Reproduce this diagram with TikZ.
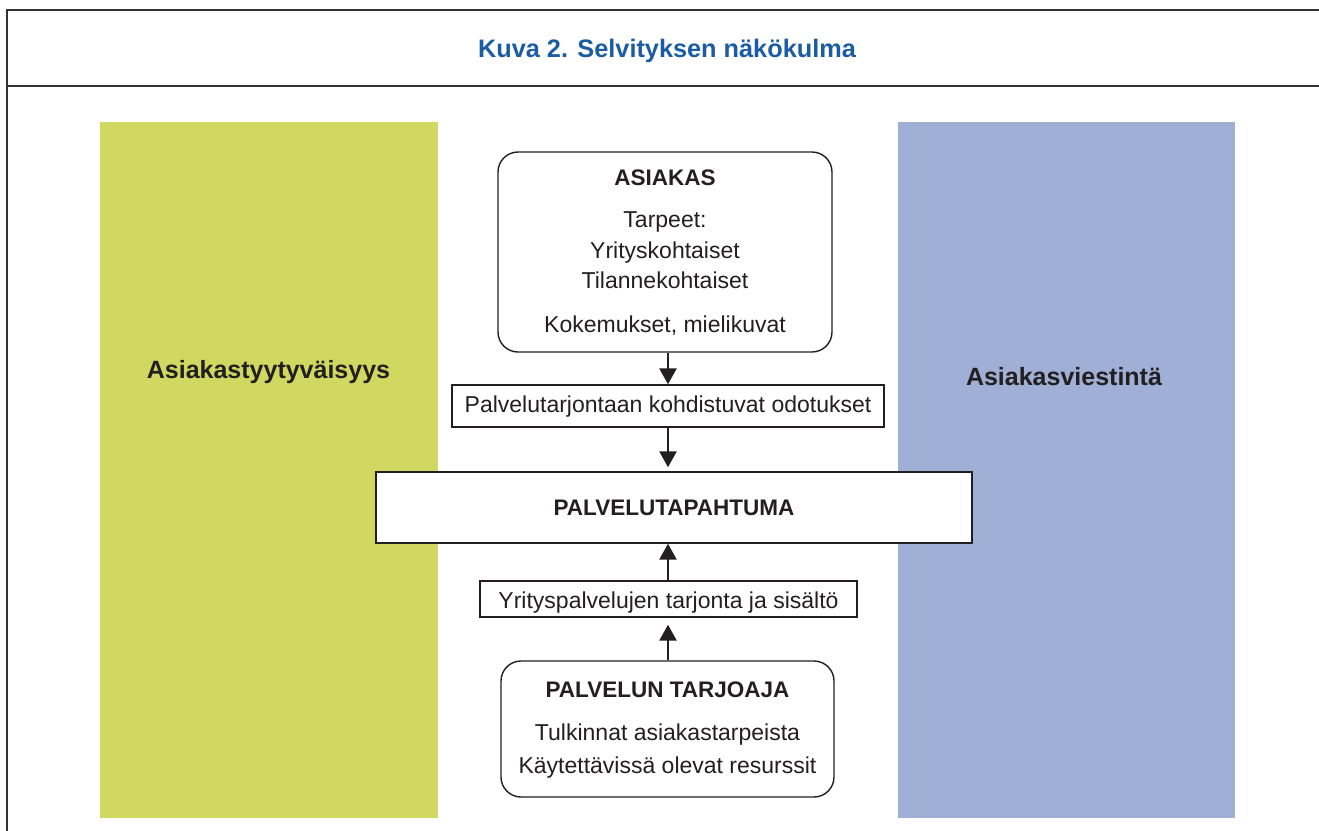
\documentclass[tikz,border=0pt]{standalone}
\usepackage{fontspec}
\setmainfont{Liberation Sans}
\usetikzlibrary{arrows.meta}
\definecolor{panelgreen}{HTML}{D0D862}
\definecolor{panelblue}{HTML}{9FAFD6}
\definecolor{titleblue}{HTML}{1B5CA5}
\definecolor{ink}{HTML}{231F20}
\definecolor{framegray}{HTML}{333333}
\tikzset{
  panel/.style={draw=none, inner sep=0pt, anchor=north west},
  boxrect/.style={draw=ink, line width=1.4pt, fill=white, inner sep=0pt},
  boxround/.style={boxrect, rounded corners=20pt},
  bodytext/.style={text=ink, font=\fontsize{23}{27}\selectfont, anchor=base, inner sep=0pt},
  headtext/.style={text=ink, font=\fontsize{22.5}{27}\selectfont\bfseries, anchor=base, inner sep=0pt},
  sidetext/.style={text=ink, font=\fontsize{25}{30}\selectfont\bfseries, anchor=base, inner sep=0pt},
  flow/.style={draw=ink, line width=2.6pt, -{Triangle[length=16pt,width=17pt]}},
}
\begin{document}
\begin{tikzpicture}[x=1pt,y=-1pt]
\useasboundingbox (0,0) rectangle (1319,830);
% outer frame
\draw[framegray, line width=2pt] (1330,10) -- (7,10) -- (7,840);
\draw[framegray, line width=2pt] (7,86) -- (1330,86);
\node[text=titleblue, font=\fontsize{25.3}{30}\selectfont\bfseries, anchor=base, inner sep=0pt] (title) at (667,57) {Kuva 2. Selvityksen näkökulma};
% side panels
\node[panel, fill=panelgreen, minimum width=338pt, minimum height=696pt] (green) at (100,122) {};
\node[panel, fill=panelblue, minimum width=337pt, minimum height=696pt] (blue) at (898,122) {};
\node[sidetext] (sat) at (268.5,378) {Asiakastyytyväisyys};
\node[sidetext] (comm) at (1064,385) {Asiakasviestintä};
% central boxes
\node[boxround, minimum width=334pt, minimum height=200pt] (asiakas) at (665,252) {};
\node[headtext] (asiakasT) at (665,185) {ASIAKAS};
\node[bodytext] (a1) at (665,227) {Tarpeet:};
\node[bodytext] (a2) at (665,258) {Yrityskohtaiset};
\node[bodytext] (a3) at (665,288) {Tilannekohtaiset};
\node[bodytext] (a4) at (665,332) {Kokemukset, mielikuvat};

\node[boxrect, minimum width=432pt, minimum height=42pt] (odot) at (668,406) {};
\node[bodytext] (odotT) at (668,412) {Palvelutarjontaan kohdistuvat odotukset};

\node[boxrect, minimum width=596pt, minimum height=71pt] (tap) at (674,507.5) {};
\node[headtext] (tapT) at (674,515) {PALVELUTAPAHTUMA};

\node[boxrect, minimum width=377pt, minimum height=36pt] (tarj) at (668.5,599) {};
\node[bodytext] (tarjT) at (668.5,608) {Yrityspalvelujen tarjonta ja sisältö};

\node[boxround, minimum width=333pt, minimum height=136pt] (tarjoaja) at (667.5,729) {};
\node[headtext] (tarjoajaT) at (667.5,697) {PALVELUN TARJOAJA};
\node[bodytext] (t1) at (667.5,740) {Tulkinnat asiakastarpeista};
\node[bodytext] (t2) at (667.5,773) {Käytettävissä olevat resurssit};

% connectors
\coordinate (ax) at (668,0);
\draw[flow] (asiakas.south -| ax) -- (odot.north -| ax);
\draw[flow, shorten >=4pt] (odot.south -| ax) -- (tap.north -| ax);
\draw[flow] (tarj.north -| ax) -- (tap.south -| ax);
\draw[flow, shorten >=7pt] (tarjoaja.north -| ax) -- (tarj.south -| ax);
\end{tikzpicture}
\end{document}
